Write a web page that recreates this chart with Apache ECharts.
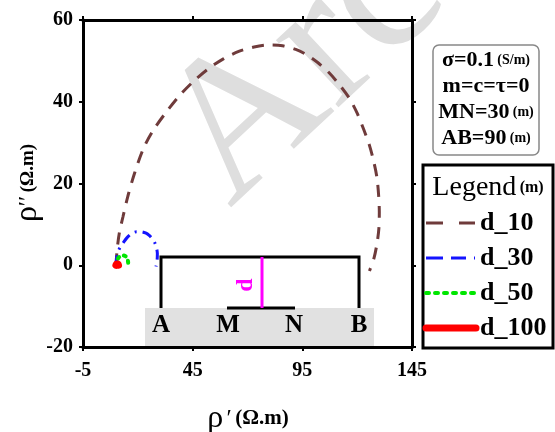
<!DOCTYPE html>
<html>
<head>
<meta charset="utf-8">
<script src="https://cdn.jsdelivr.net/npm/echarts@6/dist/echarts.min.js"></script>
<style>
  html, body { margin: 0; padding: 0; background: #fff; }
  #chart { width: 555px; height: 432px; }
</style>
</head>
<body>
<div id="chart"></div>
<script>
// axis ranges
var xMin = -5, xMax = 145, xStep = 50;
var yMin = -20, yMax = 60, yStep = 20;

// curves: [rho', rho'']
var d10 = [[10, 0], [10.6, 4], [11.6, 8], [13.2, 11.8], [15.5, 17], [18.5, 22.5], [22.5, 28.5],
  [27, 33], [33, 37.5], [39, 41.5], [45, 44.8], [52, 48], [59, 50.5], [66, 52.3], [73, 53.4],
  [80, 53.9], [86, 53.7], [92, 52.8], [97, 51.5], [102, 49.6], [107, 47.2], [112, 44.1],
  [116.5, 40.8], [120, 37.2], [123, 33.2], [125.5, 29.5], [127.5, 25.5], [129, 21.5],
  [129.8, 17], [130.1, 13], [129.9, 9], [129.1, 5.5], [127.7, 1.8], [125.6, -1.4]];
var d30 = [[10, 0], [10.3, 1.5], [10.8, 3], [12, 4.5], [13.2, 5.4], [15, 6.7], [17.3, 7.8],
  [19.5, 8.2], [21.3, 8.2], [23.5, 7.9], [25.2, 7.3], [26.7, 6.4], [27.8, 5.4], [28.6, 4],
  [28.9, 2.9], [28.8, 1.3], [28.3, -0.3]];
var d50 = [[10, 0], [10.5, 1.2], [11.5, 2], [13, 2.4], [14.4, 2.2], [15.3, 1.4], [15.6, 0.5], [15.4, -0.2]];
var d100 = [[10, 0], [10.4, 0.3], [10.9, 0.3], [11.2, 0]];

var seriesNames = ['d_10', 'd_30', 'd_50', 'd_100'];
var infoLines = [['σ=0.1', '(S/m)'], ['m=c=τ=0', ''], ['MN=30', '(m)'], ['AB=90', '(m)']];
var electrodes = ['A', 'M', 'N', 'B'];

var serif = 'Liberation Serif';
var colors = ['#6f3b3b', '#1414ff', '#00e600', '#ff0000'];
var chart = echarts.init(document.getElementById('chart'));

function axisCommon(show) {
  return {
    type: 'value', min: xMin, max: xMax, interval: xStep,
    axisLine: { onZero: false, lineStyle: { color: '#000', width: 3 } },
    axisTick: { show: true, length: 4, lineStyle: { color: '#000', width: 2 } },
    axisLabel: { show: show, color: '#000', fontFamily: serif, fontWeight: 'bold', fontSize: 20, margin: 14 },
    splitLine: { show: false }
  };
}
var xBottom = axisCommon(true);
var xTop = axisCommon(false); xTop.position = 'top';
var yLeft = axisCommon(true); yLeft.min = yMin; yLeft.max = yMax; yLeft.interval = yStep; yLeft.axisLabel.margin = 10;
var yRight = axisCommon(false); yRight.min = yMin; yRight.max = yMax; yRight.interval = yStep; yRight.position = 'right';

var infoText = infoLines.map(function (l, i) {
  return {
    type: 'text', x: 486, y: 60 + i * 26,
    style: {
      text: '{b|' + l[0] + '}' + (l[1] ? ' {s|' + l[1] + '}' : ''),
      align: 'center', verticalAlign: 'middle',
      rich: { b: { font: 'bold 22px ' + serif, fill: '#000' }, s: { font: 'bold 14px ' + serif, fill: '#000' } }
    }
  };
});

var elecX = [161, 228, 294, 359];
var elecText = electrodes.map(function (e, i) {
  return {
    type: 'text', x: elecX[i], y: 326, z: 5,
    style: { text: e, font: 'bold 25px ' + serif, fill: '#000', align: 'center', verticalAlign: 'middle' }
  };
});

// legend samples, drawn by hand to get the dash patterns right
var legY = [223, 258, 293, 328];
var legDash = [[17, 16], [17, 8, 15, 8, 2, 8], [3, 6], null];
var legWidth = [3, 3, 4, 7];
var legend = [];
seriesNames.forEach(function (n, i) {
  legend.push({
    type: 'line', shape: { x1: 426, y1: legY[i], x2: i === 3 ? 476 : 475, y2: legY[i] },
    style: { stroke: colors[i], lineWidth: legWidth[i], lineDash: legDash[i], lineCap: i >= 2 ? 'round' : 'butt' }
  });
  legend.push({
    type: 'text', x: 480, y: legY[i],
    style: { text: n, font: 'bold 26px ' + serif, fill: '#000', align: 'left', verticalAlign: 'middle' }
  });
});

chart.setOption({
  animation: false,
  grid: { left: 83, right: 143, top: 20, bottom: 85 },
  xAxis: [xBottom, xTop],
  yAxis: [yLeft, yRight],
  series: [
    { name: 'd_10', type: 'line', data: d10, smooth: 0.3, symbol: 'none', z: 3,
      lineStyle: { color: colors[0], width: 3, type: [12, 9] } },
    { name: 'd_30', type: 'line', data: d30, smooth: 0.3, symbol: 'none', z: 4,
      lineStyle: { color: colors[1], width: 3, type: [10, 6, 2, 6] } },
    { name: 'd_50', type: 'line', data: d50, smooth: 0.3, symbol: 'none', z: 5,
      lineStyle: { color: colors[2], width: 4, type: [2, 5], cap: 'round' } },
    { name: 'd_100', type: 'line', data: d100, smooth: 0.3, symbol: 'none', z: 6,
      lineStyle: { color: colors[3], width: 7, cap: 'round' } }
  ],
  graphic: [
    // watermark
    { type: 'text', x: 194, y: 170, rotation: 43 * Math.PI / 180, z: -10,
      style: { text: 'Arc', font: '200px ' + serif, fill: '#dedede', align: 'left', verticalAlign: 'middle' } },
    // electrode sketch
    { type: 'rect', shape: { x: 145, y: 308, width: 229, height: 38 }, z: -5, style: { fill: '#e1e1e1' } },
    { type: 'polyline', shape: { points: [[161, 308], [161, 257], [359, 257], [359, 308]] }, z: 5,
      style: { stroke: '#000', lineWidth: 3, fill: null } },
    { type: 'line', shape: { x1: 227, y1: 308, x2: 295, y2: 308 }, z: 5, style: { stroke: '#000', lineWidth: 3 } },
    { type: 'line', shape: { x1: 262, y1: 257, x2: 262, y2: 308 }, z: 5, style: { stroke: '#ff00ff', lineWidth: 3 } },
    { type: 'text', x: 246, y: 285, rotation: Math.PI / 2, z: 5,
      style: { text: 'd', font: 'bold 24px ' + serif, fill: '#ff00ff', align: 'center', verticalAlign: 'middle' } },
    // info box
    { type: 'rect', shape: { x: 433, y: 45, width: 106, height: 110, r: 6 },
      style: { fill: '#fff', stroke: '#888', lineWidth: 1.5 } },
    // legend frame
    { type: 'rect', shape: { x: 423, y: 165, width: 130, height: 183 },
      style: { fill: 'none', stroke: '#000', lineWidth: 3 } },
    { type: 'text', x: 488, y: 188,
      style: { text: '{r|Legend} {s|(m)}', align: 'center', verticalAlign: 'middle',
        rich: { r: { font: '28px ' + serif, fill: '#000' }, s: { font: 'bold 16px ' + serif, fill: '#000' } } } },
    // axis names
    { type: 'text', x: 28, y: 183, rotation: Math.PI / 2,
      style: { text: '{r|ρ}{p|′′} {u|(Ω.m)}', align: 'center', verticalAlign: 'middle',
        rich: { r: { font: '32px ' + serif, fill: '#000' }, p: { font: '24px ' + serif, fill: '#000' },
          u: { font: 'bold 19px ' + serif, fill: '#000' } } } },
    { type: 'text', x: 248, y: 419,
      style: { text: '{r|ρ} {p|′} {u|(Ω.m)}', align: 'center', verticalAlign: 'middle',
        rich: { r: { font: '32px ' + serif, fill: '#000' }, p: { font: '24px ' + serif, fill: '#000' },
          u: { font: 'bold 21px ' + serif, fill: '#000' } } } }
  ].concat(infoText, elecText, legend)
});
</script>
</body>
</html>
